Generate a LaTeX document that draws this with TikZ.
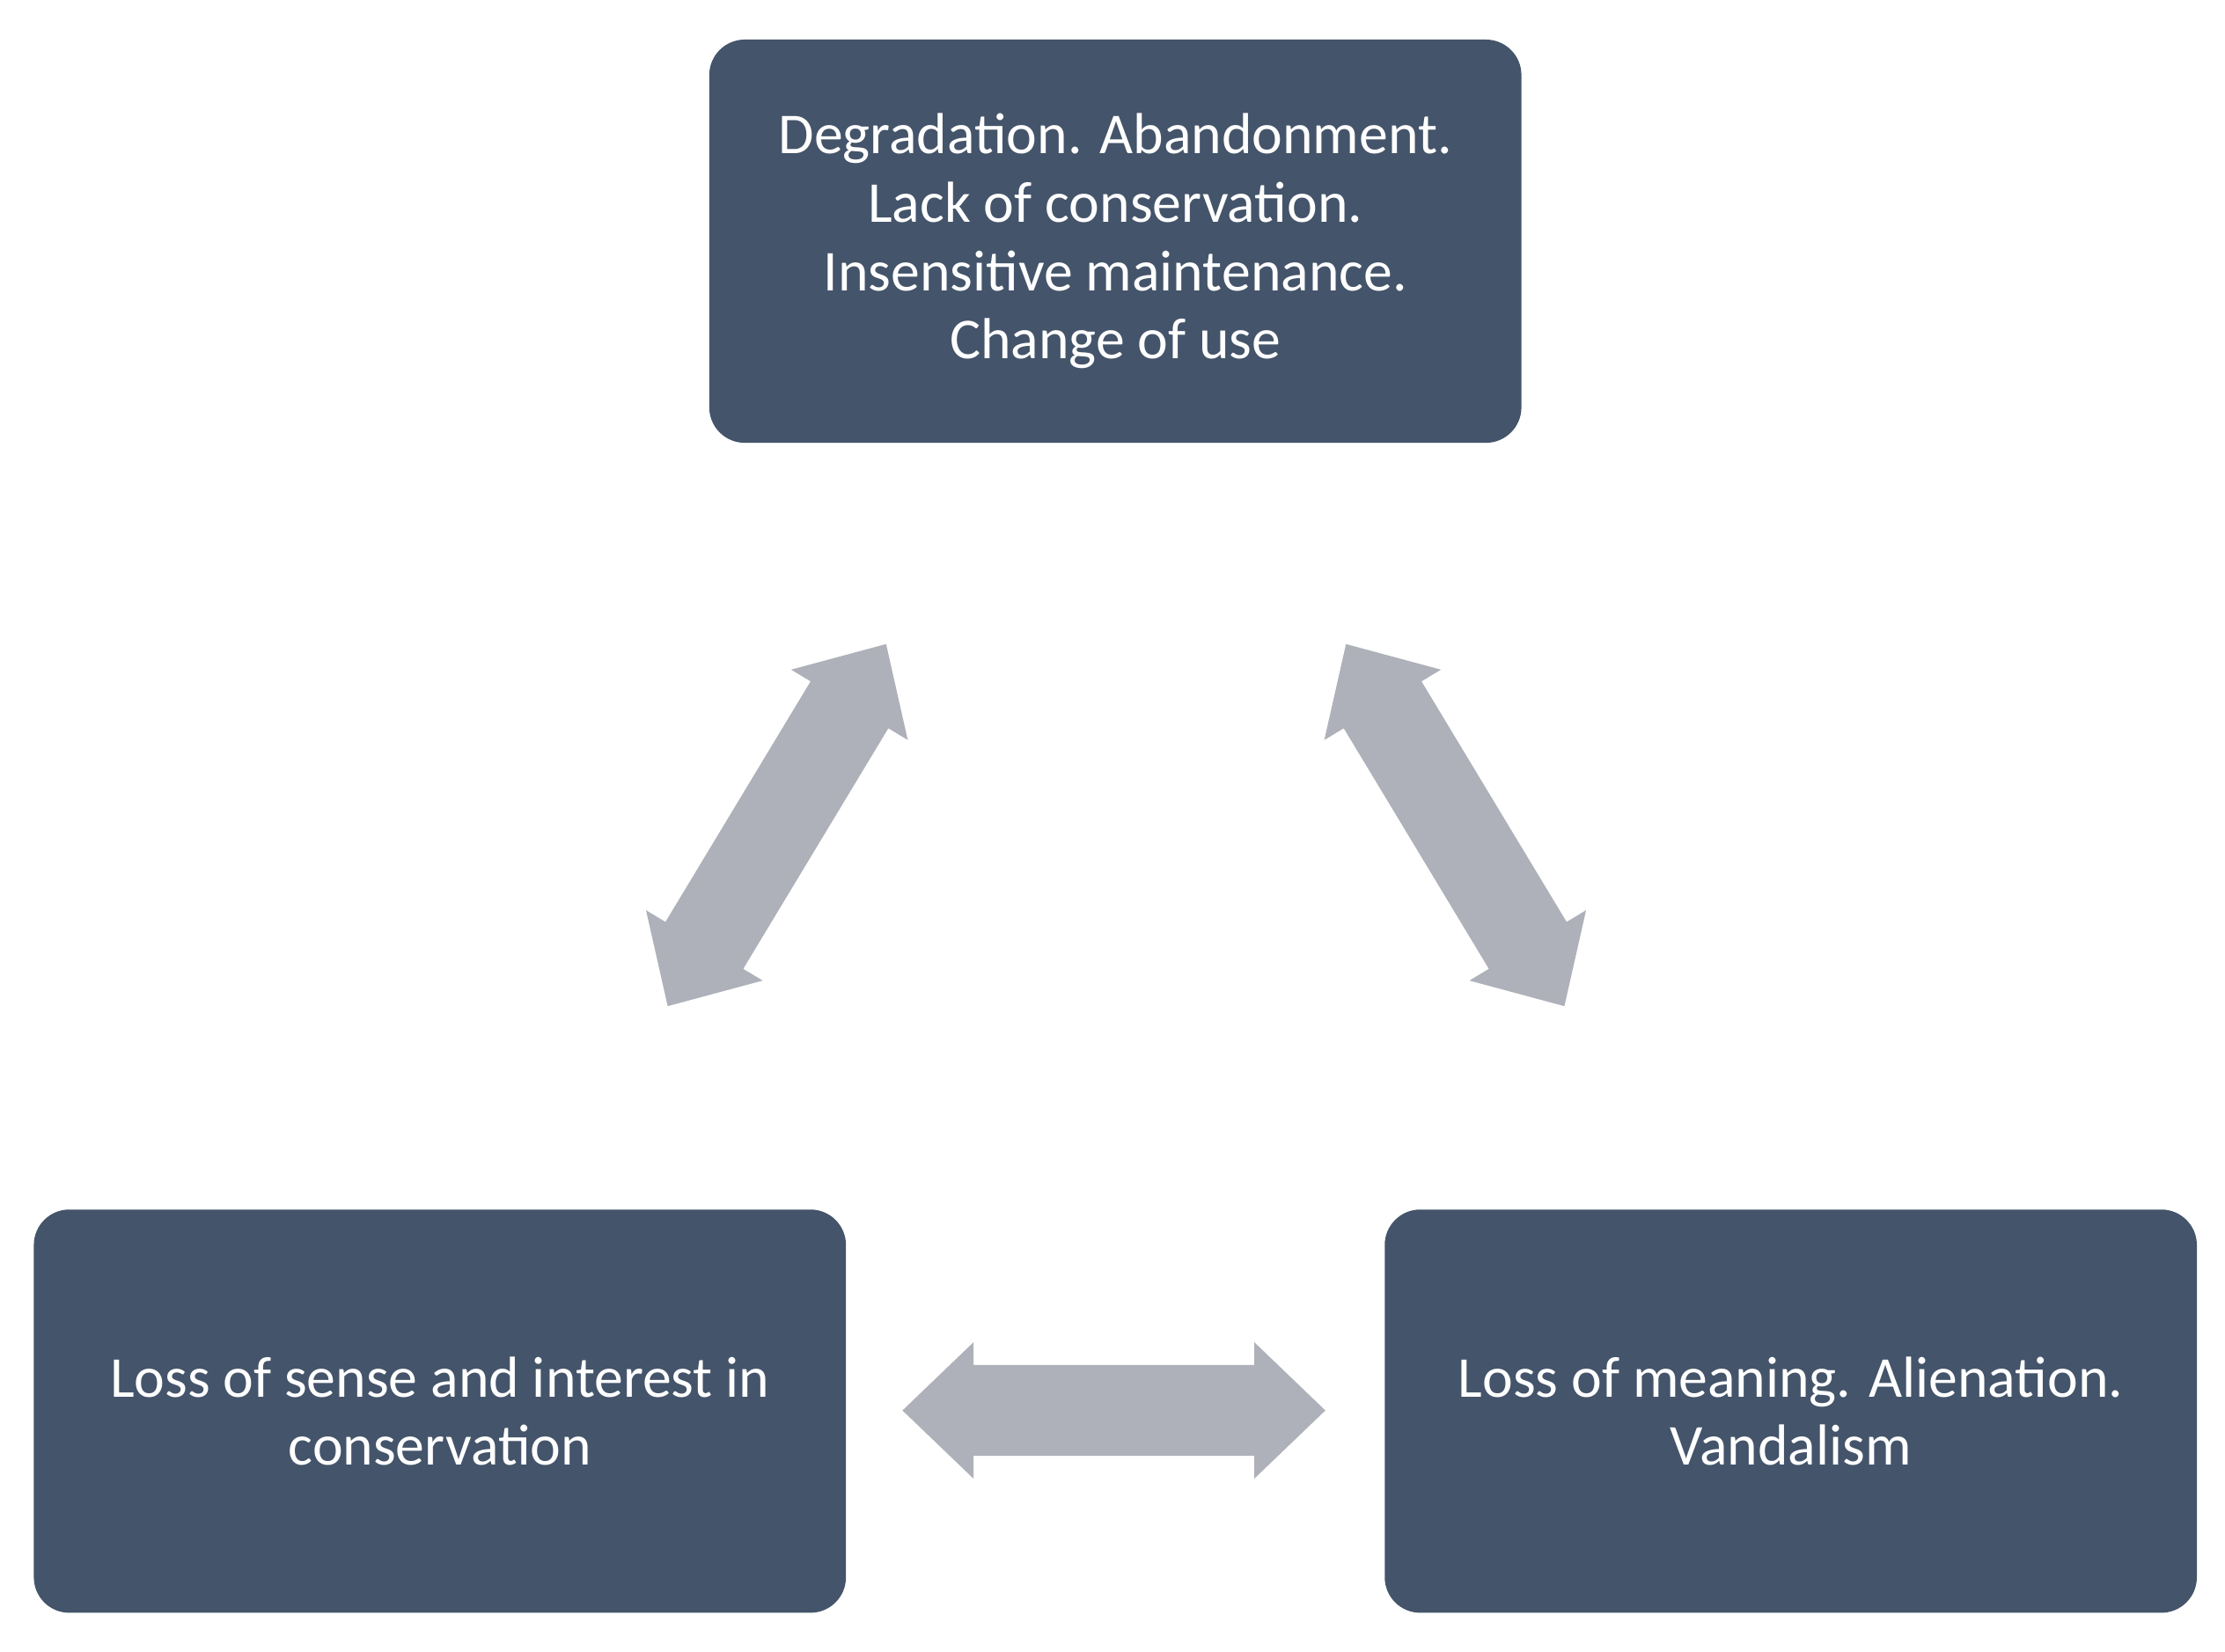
\documentclass[tikz,border=0pt]{standalone}
\usepackage{fontspec}
\setmainfont{Carlito}
\begin{document}
\begin{tikzpicture}[x=0.01cm,y=0.01cm,
  box/.style={fill=boxc,draw=none,rounded corners=0.25cm,minimum width=5.72cm,minimum height=2.84cm,
    text=white,align=center,inner sep=0pt,font=\fontsize{11.6}{13.7}\selectfont},
  barrow/.style={fill=arrc,draw=none}]
\definecolor{boxc}{HTML}{44546A}
\definecolor{arrc}{HTML}{AEB1B9}
\useasboundingbox (0,0) rectangle (1568,1164);
\newcommand\myDblArrow[2]{%
  \begin{scope}[shift={#1},rotate=#2]
  \fill[barrow] (-149,0) -- (-99,48) -- (-99,32) -- (99,32) -- (99,48) -- (149,0)
    -- (99,-48) -- (99,-32) -- (-99,-32) -- (-99,-48) -- cycle;
  \end{scope}}
\node[box] (top) at (786,994) {Degradation. Abandonment.\\Lack of conservation.\\Insensitive maintenance.\\Change of use};
\node[box] (bl) at (310,169.5) {Loss of sense and interest in\\conservation};
\node[box] (br) at (1262,169.5) {Loss of meaning. Alienation.\\Vandalism};
\myDblArrow{(785,170)}{0}
\myDblArrow{(547.5,582.5)}{58.9}
\myDblArrow{(1025.5,582.5)}{-58.9}
\end{tikzpicture}
\end{document}
